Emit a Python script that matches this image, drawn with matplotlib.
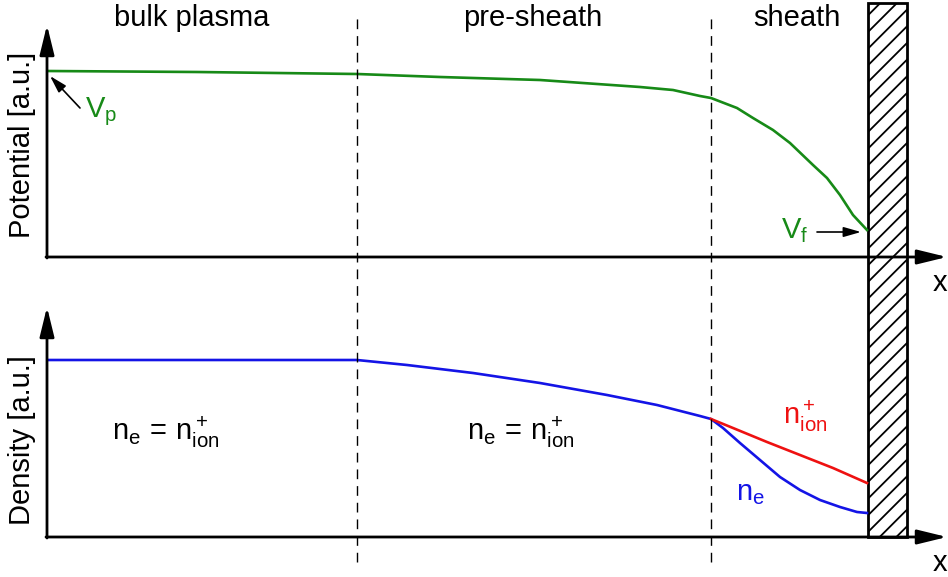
import matplotlib
matplotlib.use("Agg")
import matplotlib.pyplot as plt
import matplotlib.transforms as mtransforms
from matplotlib.patches import Rectangle

plt.rcParams['font.family'] = ['Liberation Sans', 'DejaVu Sans']
plt.rcParams['mathtext.fontset'] = 'custom'
plt.rcParams['mathtext.rm'] = 'Liberation Sans'
plt.rcParams['mathtext.it'] = 'Liberation Sans'
plt.rcParams['hatch.linewidth'] = 1.3

# positions (a.u.) of region boundaries and wall
x_presheath = 3.10
x_sheath = 6.64
x_wall = 8.21
wall_width = 0.39
x_end = 9.00

regions = ["bulk plasma", "pre-sheath", "sheath"]
region_x = [1.45, 4.86, 7.50]

# potential curve
pot_x = [0, 1.50, 3.10, 3.93, 4.93, 5.93, 6.26, 6.53, 6.64, 6.90, 7.06, 7.26, 7.43,
         7.66, 7.80, 7.93, 8.06, 8.20]
pot_y = [1.86, 1.85, 1.83, 1.80, 1.77, 1.70, 1.67, 1.61, 1.59, 1.49, 1.39, 1.27, 1.14,
         0.92, 0.79, 0.62, 0.42, 0.27]

# density curves
ne_x = [0, 3.10, 3.60, 4.26, 4.93, 5.60, 6.10, 6.53, 6.64, 6.76, 6.93, 7.13, 7.33,
        7.53, 7.73, 7.93, 8.10, 8.20]
ne_y = [1.77, 1.77, 1.72, 1.64, 1.54, 1.42, 1.32, 1.21, 1.18, 1.09, 0.94, 0.77, 0.60,
        0.47, 0.37, 0.30, 0.25, 0.24]
ni_x = [6.64, 6.86, 7.20, 7.53, 7.86, 8.20]
ni_y = [1.18, 1.09, 0.95, 0.82, 0.69, 0.54]

green = '#178a17'
blue = '#1414e6'
red = '#ee1111'
fs = 21

fig = plt.figure(figsize=(9.48, 5.77), dpi=100)
W, H = 948, 577
ax1 = fig.add_axes([47 / W, 1 - 257 / H, 901 / W, 257 / H])
ax2 = fig.add_axes([47 / W, 1 - 537 / H, 901 / W, 247 / H])
ax1.set_xlim(0, 9.01)
ax1.set_ylim(0, 2.57)
ax2.set_xlim(0, 9.01)
ax2.set_ylim(0, 2.47)

arrow = dict(arrowstyle='-|>,head_length=0.9,head_width=0.22',
             lw=2, color='k', shrinkA=0, shrinkB=0, mutation_scale=20)
for ax, ytop in [(ax1, 2.32), (ax2, 2.30)]:
    ax.axis('off')
    ax.annotate('', xy=(0, ytop), xytext=(0, -0.01), arrowprops=arrow)
    ax.annotate('', xy=(x_end, 0), xytext=(-0.01, 0), arrowprops=arrow)
    ax.text(x_end - 0.07, -0.12, 'x', fontsize=fs, ha='center', va='top')

# potential
ax1.plot(pot_x, pot_y, color=green, lw=1.9, solid_joinstyle='round')
small = dict(arrowstyle='-|>,head_length=0.7,head_width=0.2',
             lw=1.2, color='k', shrinkA=0, shrinkB=0, mutation_scale=15)
ax1.annotate('', xy=(0.03, 1.81), xytext=(0.33, 1.49), arrowprops=small)
ax1.text(0.38, 1.45, r'$\mathrm{V_p}$', color=green, fontsize=fs, ha='left', va='center')
ax1.annotate('', xy=(8.14, 0.25), xytext=(7.70, 0.25), arrowprops=small)
ax1.text(7.48, 0.26, r'$\mathrm{V_f}$', color=green, fontsize=fs, ha='center', va='center')
ax1.text(-0.25, 1.12, 'Potential [a.u.]', fontsize=fs, rotation=90, ha='center', va='center')

# density
ax2.plot(ne_x, ne_y, color=blue, lw=1.9, solid_joinstyle='round')
ax2.plot(ni_x, ni_y, color=red, lw=1.9, solid_joinstyle='round')
eq = r'$\mathrm{n_e\,=\,n^+_{ion}}$'
ax2.text(1.19, 1.05, eq, fontsize=fs, ha='center', va='center')
ax2.text(4.74, 1.05, eq, fontsize=fs, ha='center', va='center')
ax2.text(7.58, 1.21, r'$\mathrm{n^+_{ion}}$', color=red, fontsize=fs, ha='center', va='center')
ax2.text(7.03, 0.44, r'$\mathrm{n_e}$', color=blue, fontsize=fs, ha='center', va='center')
ax2.text(-0.25, 0.97, 'Density [a.u.]', fontsize=fs, rotation=90, ha='center', va='center')

# region boundaries and labels spanning both panels
blend = mtransforms.blended_transform_factory(ax1.transData, fig.transFigure)
for xb in [x_presheath, x_sheath]:
    fig.add_artist(plt.Line2D([xb, xb], [1 - 562 / H, 1 - 13 / H], transform=blend,
                              color='k', lw=1, linestyle=(0, (7, 5))))
for name, xr in zip(regions, region_x):
    fig.text(xr, 1 - 18 / H, name, transform=blend, fontsize=fs, ha='center', va='center')

fig.add_artist(Rectangle((x_wall, 1 - 537 / H), wall_width, 534 / H, transform=blend,
                         facecolor='white', edgecolor='k', lw=2, hatch='//', zorder=-1))

fig.savefig('out.png', dpi=100)
